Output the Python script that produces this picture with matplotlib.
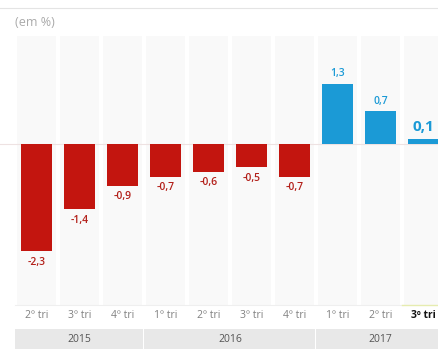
import matplotlib
matplotlib.use('Agg')
from matplotlib import pyplot as plt
from matplotlib.transforms import blended_transform_factory

plt.rcParams['font.family'] = ['Open Sans', 'DejaVu Sans']

# data
quarters = ['2º tri', '3º tri', '4º tri', '1º tri', '2º tri', '3º tri', '4º tri',
            '1º tri', '2º tri', '3º tri']
values = [-2.3, -1.4, -0.9, -0.7, -0.6, -0.5, -0.7, 1.3, 0.7, 0.1]
years = ['2015', '2016', '2017']
year_span = [(0, 2), (3, 6), (7, 9)]

RED = '#c3150f'
RED_TXT = '#b3201a'
BLUE = '#1b9ad6'
COL_BG = '#f9f9f9'

fig = plt.figure(figsize=(4.38, 3.49), dpi=100)
W, H = 438, 349

ax = fig.add_axes([0, (H - 305) / H, 1, 269 / H])
ax.set_xlim(-36.5 / 43, (W - 36.5) / 43)
ax.set_ylim(-(305 - 144) / 46.5, (144 - 36) / 46.5)
ax.axis('off')

n = len(values)
for i in range(n):
    ax.axvspan(i - 0.4535, i + 0.4535, color=COL_BG, zorder=0, lw=0)

ax.axhline(0, color='#eee2e2', lw=0.8, zorder=1)

colors = [RED if v < 0 else BLUE for v in values]
ax.bar(range(n), values, width=0.72, color=colors, zorder=2)

for i, v in enumerate(values):
    txt = ('%.1f' % v).replace('.', ',')
    last = i == n - 1
    if v < 0:
        ax.annotate(txt, (i, v), xytext=(0, -4), textcoords='offset points',
                    ha='center', va='top', fontsize=7.5, color=RED_TXT,
                    fontweight='semibold')
    else:
        ax.annotate(txt, (i, v), xytext=(0, 3 if not last else 4),
                    textcoords='offset points', ha='center', va='bottom',
                    fontsize=11 if last else 7.5, color=BLUE,
                    fontweight='bold' if last else 'semibold')

# quarter labels under columns
tr = blended_transform_factory(ax.transData, ax.transAxes)
for i, q in enumerate(quarters):
    last = i == n - 1
    ax.text(i, -11 / 269, q, transform=tr, ha='center', va='center',
            fontsize=7.5, color='#111111' if last else '#808080',
            fontweight='bold' if last else 'normal', clip_on=False)
ax.plot([-0.5, n - 1.5], [0, 0], transform=tr, color='#efefef', lw=0.8,
        clip_on=False)
ax.plot([n - 1.5, n - 0.5], [0, 0], transform=tr, color='#e6ecb0', lw=1.0,
        clip_on=False)

# year bands
axb = fig.add_axes([0, 0, 1, 20 / H])
axb.set_xlim(ax.get_xlim())
axb.set_ylim(0, 1)
axb.axis('off')
for yr, (a, b) in zip(years, year_span):
    axb.axvspan(a - 0.5, b + 0.48, color='#e8e8e8', lw=0)
    axb.text((a + b) / 2, 0.45, yr, ha='center', va='center',
             fontsize=7.5, color='#555555')

fig.text(15 / W, 1 - 22 / H, '(em %)', fontsize=9, color='#aaaaaa',
         ha='left', va='center')
fig.add_artist(plt.Line2D([0, 1], [1 - 8 / H, 1 - 8 / H], color='#e4e4e4', lw=0.8))

fig.savefig('out.png', dpi=100)
